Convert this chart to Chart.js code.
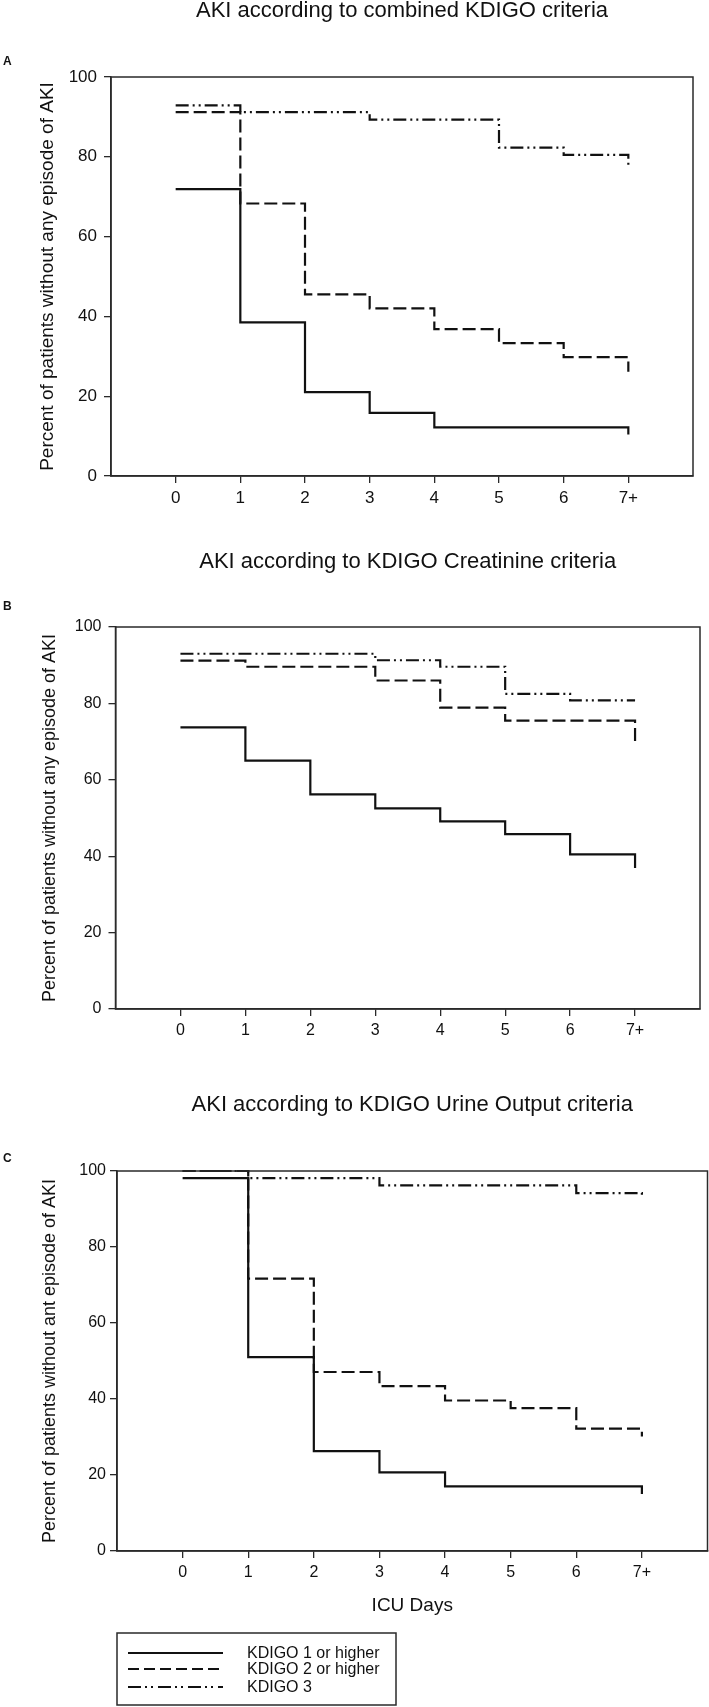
<!DOCTYPE html>
<html>
<head>
<meta charset="utf-8">
<title>AKI according to KDIGO criteria</title>
<script src="https://cdn.jsdelivr.net/npm/chart.js@4.4.1/dist/chart.umd.min.js"></script>
<style>
  body { margin: 0; background: #fff; }
  #wrap { position: relative; width: 709px; height: 1707px; }
  canvas { position: absolute; left: 0; }
</style>
</head>
<body>
<div id="wrap">
  <canvas id="chartA" width="709" height="540" style="top:0px"></canvas>
  <canvas id="chartB" width="709" height="520" style="top:540px"></canvas>
  <canvas id="chartC" width="709" height="647" style="top:1060px"></canvas>
</div>
<script>
// Eje X: dias en UCI (el ultimo punto repetido es la caida final en 7+)
const days = [0, 1, 2, 3, 4, 5, 6, 7, 7];
const dayTicks = [0, 1, 2, 3, 4, 5, 6, 7];
const dayLabels = ["0", "1", "2", "3", "4", "5", "6", "7+"];
const percentTicks = [0, 20, 40, 60, 80, 100];
const seriesNames = ["KDIGO 1 or higher", "KDIGO 2 or higher", "KDIGO 3"];

// A - combined criteria
const combinedK1 = [71.9, 38.5, 21.0, 15.8, 12.2, 12.2, 12.2, 12.2, 10.4];
const combinedK2 = [91.2, 68.3, 45.5, 42.0, 36.8, 33.3, 29.8, 29.8, 26.1];
const combinedK3 = [92.9, 91.2, 91.2, 89.3, 89.3, 82.3, 80.5, 80.5, 77.3];

// B - creatinine criteria
const creatK1 = [73.7, 65.0, 56.2, 52.5, 49.1, 45.8, 40.5, 40.5, 36.9];
const creatK2 = [91.2, 89.6, 89.6, 86.0, 78.9, 75.5, 75.5, 75.5, 70.1];
const creatK3 = [93.0, 93.0, 93.0, 91.3, 89.6, 82.5, 80.8, 80.8, 80.8];

// C - urine output criteria
const urineK1 = [98.1, 51.0, 26.3, 20.7, 17.0, 17.0, 17.0, 17.0, 15.0];
const urineK2 = [100, 71.7, 47.1, 43.4, 39.6, 37.6, 32.2, 32.2, 30.1];
const urineK3 = [100, 98.1, 98.1, 96.2, 96.2, 96.2, 94.2, 94.2, 93.6];

// Estilos de linea por serie
const lineDashes = [[], [13, 5], [13, 4, 2, 4, 2, 4]];
const legendDashes = [[], [11, 5], [13, 4, 2, 4, 2, 5]];

const FONT = "'Liberation Sans', Arial, Helvetica, sans-serif";
const INK = "#111";
const AXIS = "#2a2a2a";

Chart.defaults.font.family = FONT;
Chart.defaults.color = INK;

// Marco completo del area del grafico + letra del panel
const framePlugin = {
  id: "frame",
  afterDraw(chart, args, opts) {
    const { ctx, chartArea } = chart;
    ctx.save();
    ctx.strokeStyle = AXIS;
    ctx.lineWidth = 1.5;
    ctx.strokeRect(chartArea.left, chartArea.top, chartArea.right - chartArea.left, chartArea.bottom - chartArea.top);
    ctx.fillStyle = INK;
    ctx.font = "bold 12px " + FONT;
    ctx.textBaseline = "middle";
    ctx.fillText(opts.letter, 3, opts.letterY);
    ctx.restore();
  },
};

// Leyenda con recuadro (solo panel C)
const boxLegendPlugin = {
  id: "boxLegend",
  afterDraw(chart, args, opts) {
    if (!opts.show) return;
    const { ctx } = chart;
    ctx.save();
    ctx.strokeStyle = AXIS;
    ctx.lineWidth = 1.5;
    ctx.strokeRect(opts.left, opts.top, opts.width, opts.height);
    ctx.font = "16px " + FONT;
    ctx.fillStyle = INK;
    ctx.textBaseline = "middle";
    chart.data.datasets.forEach((ds, i) => {
      const y = opts.rowsY[i];
      ctx.setLineDash(legendDashes[i]);
      ctx.strokeStyle = INK;
      ctx.lineWidth = 2.2;
      ctx.beginPath();
      ctx.moveTo(opts.lineX0, y);
      ctx.lineTo(opts.lineX1, y);
      ctx.stroke();
      ctx.setLineDash([]);
      ctx.fillText(ds.label, opts.textX, y + 1);
    });
    ctx.restore();
  },
};

function crearPanel(id, cfg) {
  const canvas = document.getElementById(id);
  const W = canvas.width;
  const H = canvas.height;
  const padBottom = cfg.padBottom || 0;

  return new Chart(canvas, {
    type: "line",
    data: {
      datasets: cfg.series.map((values, i) => ({
        label: seriesNames[i],
        data: values.map((v, j) => ({ x: days[j], y: v })),
        borderColor: INK,
        borderWidth: 2.2,
        borderDash: lineDashes[i],
        stepped: true,
        pointRadius: 0,
        fill: false,
        clip: 4,
      })),
    },
    options: {
      responsive: false,
      animation: false,
      devicePixelRatio: 1,
      layout: {
        padding: { left: 0, right: W - cfg.area.right, top: 0, bottom: padBottom },
      },
      plugins: {
        legend: { display: false },
        tooltip: { enabled: false },
        title: {
          display: true,
          text: cfg.title,
          fullSize: false,
          color: INK,
          font: { size: 22, weight: "normal", lineHeight: 1 },
          padding: cfg.titlePad,
        },
        frame: { letter: cfg.letter, letterY: cfg.letterY },
        boxLegend: cfg.legend || { show: false },
      },
      scales: {
        x: {
          type: "linear",
          min: -1,
          max: 8,
          afterBuildTicks: (s) => {
            s.ticks = dayTicks.map((v) => ({ value: v }));
          },
          afterFit: (s) => {
            s.height = H - padBottom - cfg.area.bottom;
          },
          ticks: {
            autoSkip: false,
            maxRotation: 0,
            padding: 5,
            color: INK,
            font: { size: cfg.tickSize },
            callback: (v) => dayLabels[dayTicks.indexOf(v)],
          },
          grid: { drawOnChartArea: false, drawTicks: true, tickLength: 7, color: AXIS, lineWidth: 1.3 },
          border: { display: true, color: AXIS, width: 1.5 },
          title: cfg.xTitle
            ? { display: true, text: cfg.xTitle, color: INK, font: { size: 19 }, padding: { top: 0, bottom: 0 } }
            : { display: false },
        },
        y: {
          min: 0,
          max: 100,
          afterBuildTicks: (s) => {
            s.ticks = percentTicks.map((v) => ({ value: v }));
          },
          afterFit: (s) => {
            s.width = cfg.area.left;
          },
          ticks: { padding: cfg.yTickPad, color: INK, font: { size: cfg.tickSize } },
          grid: { drawOnChartArea: false, drawTicks: true, tickLength: 7, color: AXIS, lineWidth: 1.3 },
          border: { display: true, color: AXIS, width: 1.5 },
          title: {
            display: true,
            text: cfg.yTitle,
            color: INK,
            font: { size: cfg.yTitleSize },
            padding: { top: cfg.yTitlePad, bottom: 0 },
          },
        },
      },
    },
    plugins: [framePlugin, boxLegendPlugin],
  });
}

// Panel A
crearPanel("chartA", {
  title: "AKI according to combined KDIGO criteria",
  titlePad: { top: 0, bottom: 55 },
  letter: "A",
  letterY: 62,
  series: [combinedK1, combinedK2, combinedK3],
  area: { left: 111, right: 693, bottom: 476 },
  tickSize: 17,
  yTitle: "Percent of patients without any episode of AKI",
  yTitleSize: 19,
  yTitlePad: 36,
  yTickPad: 7,
});

// Panel B
crearPanel("chartB", {
  title: "AKI according to KDIGO Creatinine criteria",
  titlePad: { top: 11, bottom: 54 },
  letter: "B",
  letterY: 67,
  series: [creatK1, creatK2, creatK3],
  area: { left: 115.5, right: 700, bottom: 469 },
  tickSize: 16,
  yTitle: "Percent of patients without any episode of AKI",
  yTitleSize: 18,
  yTitlePad: 39,
  yTickPad: 7,
});

// Panel C
crearPanel("chartC", {
  title: "AKI according to KDIGO Urine Output criteria",
  titlePad: { top: 34, bottom: 55 },
  letter: "C",
  letterY: 99,
  series: [urineK1, urineK2, urineK3],
  area: { left: 117, right: 707.5, bottom: 491 },
  padBottom: 90,
  tickSize: 16,
  xTitle: "ICU Days",
  yTitle: "Percent of patients without ant episode of AKI",
  yTitleSize: 18,
  yTitlePad: 39,
  yTickPad: 4,
  legend: {
    show: true,
    left: 117,
    top: 573,
    width: 279,
    height: 72,
    lineX0: 128,
    lineX1: 223,
    textX: 247,
    rowsY: [593, 609, 627],
  },
});
</script>
</body>
</html>
